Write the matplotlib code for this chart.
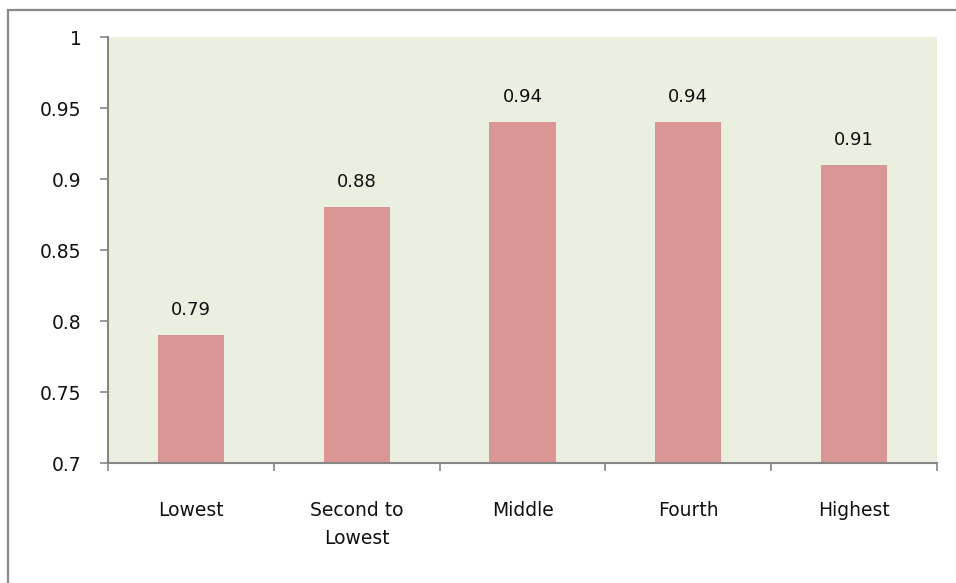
import numpy as np
import matplotlib.pyplot as plt
from matplotlib.patches import Rectangle

categories = ["Lowest", "Second to\nLowest", "Middle", "Fourth", "Highest"]
values = [0.79, 0.88, 0.94, 0.94, 0.91]
yticks = [0.7, 0.75, 0.8, 0.85, 0.9, 0.95, 1]
ytick_labels = ["0.7", "0.75", "0.8", "0.85", "0.9", "0.95", "1"]

plt.rcParams['font.family'] = ['DejaVu Sans']

fig = plt.figure(figsize=(9.56, 5.83), dpi=100)
fig.patch.set_facecolor('white')

# outer chart frame (runs off the right and bottom edge in the reference)
frame = Rectangle((8/956, -0.1), 1.1, 0.1 + (583-10)/583, transform=fig.transFigure,
                  fill=False, edgecolor='#888888', linewidth=1.6, clip_on=False)
fig.patches.append(frame)

ax = fig.add_axes([108/956, (583-463)/583, (937-108)/956, (463-37)/583])
ax.set_facecolor('#EBEFDF')

x = np.arange(len(categories))
ax.bar(x, values, width=0.4, color='#D99694', zorder=2)

for xi, v in zip(x, values):
    ax.annotate(f"{v:.2f}", (xi, v), xytext=(0, 18), textcoords='offset points',
                ha='center', va='center', fontsize=13, color='#111111')

ax.set_ylim(0.7, 1.0)
ax.set_xlim(-0.5, len(categories) - 0.5)
ax.set_yticks(yticks)
ax.set_yticklabels(ytick_labels, fontsize=13.5, color='#111111')

ax.set_xticks(x)
ax.set_xticklabels(categories, fontsize=13.5, linespacing=1.65, color='#111111')
ax.set_xticks(np.arange(len(categories) + 1) - 0.5, minor=True)
ax.tick_params(axis='x', which='major', length=0, pad=27)
ax.tick_params(axis='x', which='minor', length=6, color='#868686', width=1.2)
ax.tick_params(axis='y', length=6, color='#868686', width=1.2, pad=13)

for s in ['top', 'right']:
    ax.spines[s].set_visible(False)
for s in ['left', 'bottom']:
    ax.spines[s].set_color('#868686')
    ax.spines[s].set_linewidth(1.5)

fig.savefig('out.png', dpi=100)
